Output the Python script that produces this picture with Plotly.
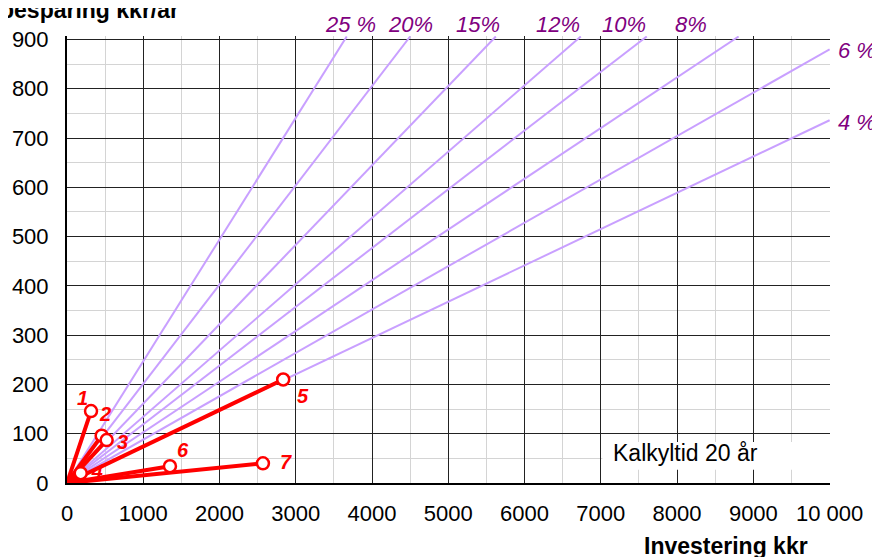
import plotly.graph_objects as go

# ---- data ----
point_labels = ["1", "2", "3", "4", "5", "6", "7"]
investment = [315, 455, 520, 180, 2835, 1350, 2569]      # kkr
savings = [146, 96, 87, 20, 210, 34, 40]                 # kkr/år

rate_labels = ["25 %", "20%", "15%", "12%", "10%", "8%", "6 %", "4 %"]
rate_end_investment = [3668, 4500, 5623, 6737, 7602, 8807, 10000, 10000]
rate_end_saving = [906, 906, 906, 906, 906, 906, 880, 736]

x_tick_vals = [0, 1000, 2000, 3000, 4000, 5000, 6000, 7000, 8000, 9000, 10000]
x_tick_text = ["0", "1000", "2000", "3000", "4000", "5000", "6000", "7000", "8000", "9000", "10 000"]
y_tick_vals = [0, 100, 200, 300, 400, 500, 600, 700, 800, 900]

# ---- styles ----
FONT = "Liberation Sans, Arial, sans-serif"
PURPLE_LINE = "#C9A0FF"
PURPLE_TEXT = "#800080"
RED = "#FF0000"
rate_label_shift = [(4, 12), (0, 12), (-18, 12), (-23, 12), (-23, 12), (-48, 12), (27, -1), (27, -2)]
point_label_shift = [(-9, 13), (3, 22), (16, -2), (19, 0), (20, -16), (13, 16), (23, 1)]

fig = go.Figure()

# label "4" sits underneath the lines in the original
fig.add_trace(go.Scatter(
    x=[investment[3]], y=[savings[3]], mode="text",
    text=["\u00a0\u00a0" + point_labels[3]], textposition="middle right",
    textfont=dict(family=FONT, size=20, color=RED, weight="bold", style="italic"),
    hoverinfo="skip", showlegend=False))

# rate lines
for xe, ye in zip(rate_end_investment, rate_end_saving):
    fig.add_trace(go.Scatter(x=[0, xe], y=[0, ye], mode="lines",
                             line=dict(color=PURPLE_LINE, width=2),
                             hoverinfo="skip", showlegend=False))

# red project lines
for xi, yi in zip(investment, savings):
    fig.add_trace(go.Scatter(x=[0, xi], y=[0, yi], mode="lines",
                             line=dict(color=RED, width=4),
                             hoverinfo="skip", showlegend=False))

fig.add_trace(go.Scatter(x=investment, y=savings, mode="markers",
                         marker=dict(symbol="circle", size=12, color="white",
                                     line=dict(color=RED, width=2.5)),
                         showlegend=False))

annotations = []
for lab, xe, ye, (dx, dy) in zip(rate_labels, rate_end_investment, rate_end_saving, rate_label_shift):
    annotations.append(dict(x=xe, y=ye, xref="x", yref="y", text=lab, showarrow=False,
                            xshift=dx, yshift=dy,
                            font=dict(family=FONT, size=22, color=PURPLE_TEXT, style="italic")))
for i, (lab, xi, yi, (dx, dy)) in enumerate(zip(point_labels, investment, savings, point_label_shift)):
    if i == 3:
        continue
    annotations.append(dict(x=xi, y=yi, xref="x", yref="y", text=lab, showarrow=False,
                            xshift=dx, yshift=dy,
                            font=dict(family=FONT, size=20, color=RED, weight="bold", style="italic")))

annotations.append(dict(x=7130, y=61, xref="x", yref="y", xanchor="left", yanchor="middle",
                        text="Kalkyltid 20 år", showarrow=False,
                        font=dict(family=FONT, size=23, color="black")))
annotations.append(dict(x=-0.091, y=1.058, xref="paper", yref="paper", xanchor="left",
                        yanchor="middle", text="<b>besparing kkr/år</b>", showarrow=False,
                        font=dict(family=FONT, size=23, color="black")))
annotations.append(dict(x=0.8637, y=-0.141, xref="paper", yref="paper", xanchor="center",
                        yanchor="middle", text="<b>Investering kkr</b>", showarrow=False,
                        font=dict(family=FONT, size=23, color="black")))

# the page places the figure 8px from the top-left corner, so margins compensate
fig.update_layout(
    width=880, height=557,
    margin=dict(l=59, r=58, t=28, b=82),
    paper_bgcolor="white", plot_bgcolor="white",
    font=dict(family=FONT, size=22, color="black"),
    annotations=annotations,
    shapes=[dict(type="rect", xref="x", yref="y", x0=7020, x1=10060, y0=27, y1=83,
                 fillcolor="white", line=dict(width=0), layer="above")],
    xaxis=dict(range=[0, 10005], tickvals=x_tick_vals, ticktext=x_tick_text,
               showgrid=True, gridcolor="#222222", gridwidth=1,
               minor=dict(dtick=500, showgrid=True, gridcolor="#D4D4D4", gridwidth=1),
               showline=True, linecolor="black", linewidth=2, zeroline=False,
               ticks="", ticklabelstandoff=10, tickfont=dict(size=22), automargin=False),
    yaxis=dict(range=[0, 907], tickvals=y_tick_vals,
               showgrid=True, gridcolor="#222222", gridwidth=1,
               minor=dict(dtick=50, showgrid=True, gridcolor="#D4D4D4", gridwidth=1),
               showline=True, linecolor="black", linewidth=2, zeroline=False,
               ticks="", ticklabelstandoff=12, tickfont=dict(size=22), automargin=False),
)

fig.write_html("out.html")
